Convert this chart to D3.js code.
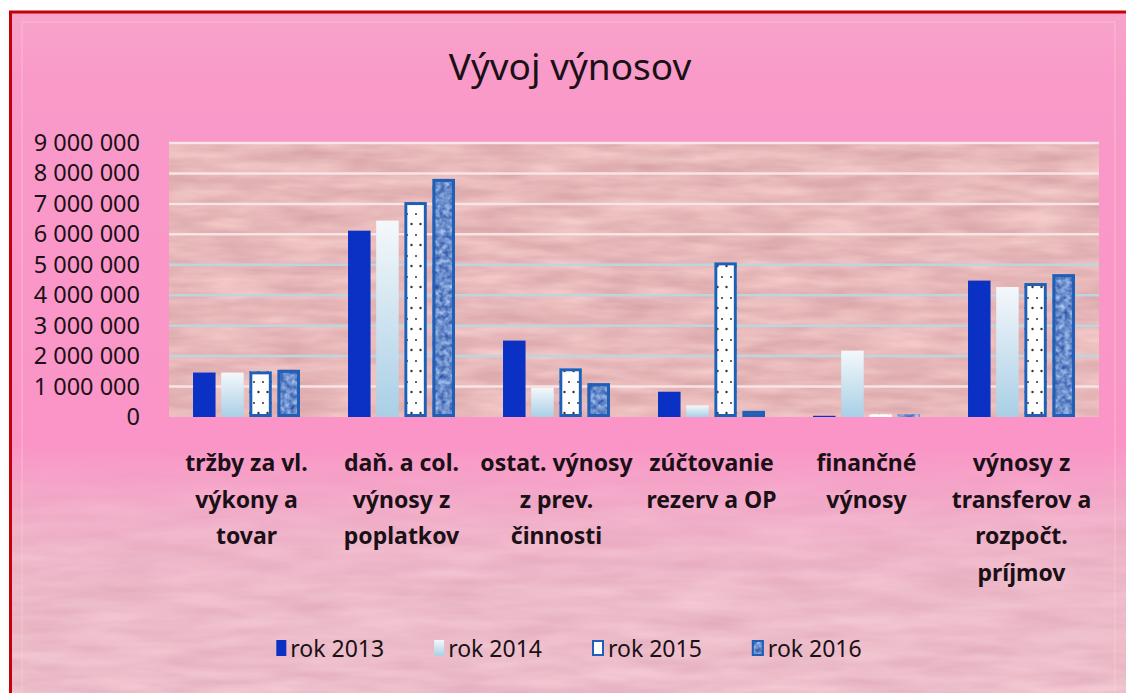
<!DOCTYPE html>
<html>
<head>
<meta charset="utf-8">
<script src="https://cdn.jsdelivr.net/npm/d3@7"></script>
<style>
  html, body { margin: 0; padding: 0; background: #fff; }
  svg { display: block; }
  text { font-family: "Noto Sans", "Open Sans", sans-serif; fill: #1a1016; }
</style>
</head>
<body>
<div id="chart"></div>
<script>
// data
const title = "Vývoj výnosov";
const categories = [
  "tržby za vl.\nvýkony a\ntovar",
  "daň. a col.\nvýnosy z\npoplatkov",
  "ostat. výnosy\nz prev.\nčinnosti",
  "zúčtovanie\nrezerv a OP",
  "finančné\nvýnosy",
  "výnosy z\ntransferov a\nrozpočt.\npríjmov"
];
const seriesNames = ["rok 2013", "rok 2014", "rok 2015", "rok 2016"];
const rok2013 = [1460000, 6120000, 2510000, 830000, 40000, 4480000];
const rok2014 = [1460000, 6450000, 960000, 380000, 2180000, 4270000];
const rok2015 = [1500000, 7060000, 1600000, 5080000, 90000, 4400000];
const rok2016 = [1550000, 7820000, 1110000, 200000, 90000, 4690000];
const yTicks = [0, 1000000, 2000000, 3000000, 4000000, 5000000, 6000000, 7000000, 8000000, 9000000];

const values = [rok2013, rok2014, rok2015, rok2016];

const W = 1126, H = 693;
const plot = { left: 169, right: 1099, top: 143, bottom: 417 };

const svg = d3.select("#chart").append("svg")
    .attr("width", W)
    .attr("height", H);

const defs = svg.append("defs");

// background gradient of the chart area
const bgGrad = defs.append("linearGradient")
    .attr("id", "bgGrad")
    .attr("x1", 0).attr("y1", 0).attr("x2", 0).attr("y2", 1);
[["0%", "#f7a4ca"], ["10%", "#f99ac9"], ["64%", "#fb94c7"], ["74%", "#f4a6c8"], ["86%", "#edb4c5"], ["100%", "#ecb9c5"]]
    .forEach(s => bgGrad.append("stop").attr("offset", s[0]).attr("stop-color", s[1]));

// fade mask for the lower texture
const fade = defs.append("linearGradient")
    .attr("id", "fadeGrad")
    .attr("x1", 0).attr("y1", 0).attr("x2", 0).attr("y2", 1);
fade.append("stop").attr("offset", "0%").attr("stop-color", "#000");
fade.append("stop").attr("offset", "45%").attr("stop-color", "#888");
fade.append("stop").attr("offset", "100%").attr("stop-color", "#ccc");
defs.append("mask").attr("id", "fadeMask")
    .append("rect")
    .attr("x", 0).attr("y", 440).attr("width", W).attr("height", H - 440)
    .attr("fill", "url(#fadeGrad)");

// noise texture filter: maps noise to a range between two colours
function textureFilter(id, freq, oct, c0, c1, seed) {
    const a = d3.rgb(c0), b = d3.rgb(c1);
    const f = defs.append("filter").attr("id", id)
        .attr("x", 0).attr("y", 0).attr("width", 1).attr("height", 1)
        .attr("color-interpolation-filters", "sRGB");
    f.append("feTurbulence")
        .attr("type", "fractalNoise")
        .attr("baseFrequency", freq)
        .attr("numOctaves", oct)
        .attr("seed", seed)
        .attr("result", "noise");
    const m = [
        [(b.r - a.r) / 255, 0, 0, 0, a.r / 255],
        [(b.g - a.g) / 255, 0, 0, 0, a.g / 255],
        [(b.b - a.b) / 255, 0, 0, 0, a.b / 255],
        [0, 0, 0, 0, 1]
    ];
    f.append("feColorMatrix")
        .attr("in", "noise")
        .attr("type", "matrix")
        .attr("values", m.map(r => r.join(" ")).join(" "))
        .attr("result", "col");
    f.append("feComposite")
        .attr("in", "col")
        .attr("in2", "SourceGraphic")
        .attr("operator", "in");
}
textureFilter("plotTex", "0.015 0.08", 3, "#d49ea2", "#fad2d0", 3);
textureFilter("lowTex", "0.012 0.07", 3, "#dca4b6", "#fcd8e0", 7);
textureFilter("blueTex", "0.2", 2, "#0d3a98", "#c8e0ff", 11);

// 2014 bar gradient
const g14 = defs.append("linearGradient")
    .attr("id", "grad2014")
    .attr("x1", 0).attr("y1", 0).attr("x2", 0).attr("y2", 1);
g14.append("stop").attr("offset", "0%").attr("stop-color", "#f4f8fb");
g14.append("stop").attr("offset", "100%").attr("stop-color", "#a9cfe6");

// 2015 dotted fill
const dots = defs.append("pattern")
    .attr("id", "dots2015")
    .attr("patternUnits", "userSpaceOnUse")
    .attr("width", 9).attr("height", 21);
dots.append("rect").attr("width", 9).attr("height", 21).attr("fill", "#ffffff");
dots.append("circle").attr("cx", 2).attr("cy", 4).attr("r", 1).attr("fill", "#333");
dots.append("circle").attr("cx", 6.5).attr("cy", 14).attr("r", 1.2).attr("fill", "#333");

// chart background
svg.append("rect")
    .attr("x", 9).attr("y", 11)
    .attr("width", W - 9).attr("height", H - 11)
    .attr("fill", "url(#bgGrad)");
svg.append("g")
    .attr("mask", "url(#fadeMask)")
    .append("rect")
    .attr("x", 9).attr("y", 440)
    .attr("width", W - 9).attr("height", H - 440)
    .attr("fill", "#e9b4c2")
    .attr("filter", "url(#lowTex)");
// faint inner frame
svg.append("rect")
    .attr("x", 22).attr("y", 22)
    .attr("width", 1093).attr("height", H)
    .attr("fill", "none")
    .attr("stroke", "#fbd9c8")
    .attr("stroke-opacity", 0.35)
    .attr("stroke-width", 1.5);
// red frame
svg.append("path")
    .attr("d", `M10.5,${H} V12 H${W}`)
    .attr("fill", "none")
    .attr("stroke", "#c50008")
    .attr("stroke-width", 3);

// scales
const x0 = d3.scaleBand()
    .domain(d3.range(categories.length))
    .range([plot.left, plot.right]);
const inset = x0.bandwidth() * 0.155;
const x1 = d3.scaleBand()
    .domain(d3.range(seriesNames.length))
    .range([inset, x0.bandwidth() - inset])
    .paddingInner(0.2);
const y = d3.scaleLinear()
    .domain([0, 9000000])
    .range([plot.bottom, plot.top]);

// plot area
svg.append("rect")
    .attr("x", plot.left).attr("y", plot.top)
    .attr("width", plot.right - plot.left).attr("height", plot.bottom - plot.top)
    .attr("fill", "#e8b6b8")
    .attr("filter", "url(#plotTex)");

// gridlines
svg.append("g")
    .selectAll("line")
    .data(yTicks.filter(d => d > 0))
    .join("line")
    .attr("x1", plot.left).attr("x2", plot.right)
    .attr("y1", d => y(d)).attr("y2", d => y(d))
    .attr("stroke", d => (d >= 6000000 || d === 1000000) ? "#f8e4e6" : "#bcd5de")
    .attr("stroke-width", 2.5);

// y axis labels
const fmt = d3.formatLocale({ decimal: ",", thousands: " ", grouping: [3], currency: ["", ""] }).format(",d");
const yAxis = svg.append("g")
    .attr("transform", `translate(${plot.left},0)`)
    .call(d3.axisLeft(y).tickValues(yTicks).tickFormat(fmt).tickSize(0).tickPadding(29));
yAxis.select(".domain").remove();
yAxis.selectAll("text")
    .attr("fill", "#2a1424")
    .style("font-size", "23.5px")
    .style("font-family", "\"Noto Sans\", sans-serif");

// bars
const seriesG = svg.append("g")
    .selectAll("g")
    .data(values)
    .join("g");

seriesG.each(function (vals, s) {
    const g = d3.select(this);
    const bars = g.selectAll("rect.bar")
        .data(vals)
        .join("rect")
        .attr("class", "bar")
        .attr("x", (d, i) => x0(i) + x1(s))
        .attr("y", d => y(d))
        .attr("width", x1.bandwidth())
        .attr("height", d => y(0) - y(d));
    if (s === 0) {
        bars.attr("fill", "#0a31c4");
    } else if (s === 1) {
        bars.attr("fill", "url(#grad2014)");
    } else if (s === 2) {
        bars.attr("fill", "url(#dots2015)");
    } else {
        bars.attr("fill", "#5f8fd6").attr("filter", "url(#blueTex)");
    }
    if (s >= 2) {
        g.selectAll("rect.edge")
            .data(vals)
            .join("rect")
            .attr("class", "edge")
            .attr("x", (d, i) => x0(i) + x1(s) + 1.5)
            .attr("y", d => y(d) + 1.5)
            .attr("width", x1.bandwidth() - 3)
            .attr("height", d => Math.max(0, y(0) - y(d) - 3))
            .attr("fill", "none")
            .attr("stroke", "#1f5fb5")
            .attr("stroke-width", 3);
    }
});

// category labels
const catG = svg.append("g")
    .selectAll("text")
    .data(categories)
    .join("text")
    .attr("x", (d, i) => x0(i) + x0.bandwidth() / 2)
    .attr("y", 471)
    .attr("text-anchor", "middle")
    .style("font-size", "23px")
    .style("font-weight", "bold");
catG.selectAll("tspan")
    .data(d => d.split("\n"))
    .join("tspan")
    .attr("x", function () { return d3.select(this.parentNode).attr("x"); })
    .attr("dy", (d, i) => i === 0 ? 0 : 36.5)
    .text(d => d);

// title
svg.append("text")
    .attr("x", 570)
    .attr("y", 80)
    .attr("text-anchor", "middle")
    .style("font-size", "37px")
    .text(title);

// legend
const legend = svg.append("g");
const keyW = [10, 10, 12, 12];
const gap = 50;
let lx = 0;
seriesNames.forEach((name, i) => {
    const it = legend.append("g");
    it.append("rect")
        .attr("x", 0).attr("y", -9)
        .attr("width", keyW[i]).attr("height", 16)
        .attr("fill", i === 0 ? "#0a31c4" : i === 1 ? "url(#grad2014)" : i === 2 ? "#ffffff" : "#5f8fd6")
        .attr("filter", i === 3 ? "url(#blueTex)" : null);
    if (i >= 2) {
        it.append("rect")
            .attr("x", 1).attr("y", -8)
            .attr("width", keyW[i] - 2).attr("height", 14)
            .attr("fill", "none")
            .attr("stroke", "#1f5fb5")
            .attr("stroke-width", 2);
    }
    const t = it.append("text")
        .attr("x", keyW[i] + 4)
        .attr("y", 8)
        .style("font-size", "23px")
        .text(name);
    const w = keyW[i] + 4 + t.node().getComputedTextLength();
    it.attr("transform", `translate(${lx},0)`);
    lx += w + gap;
});
const legendW = lx - gap;
legend.attr("transform", `translate(${569 - legendW / 2},649)`);
</script>
</body>
</html>
